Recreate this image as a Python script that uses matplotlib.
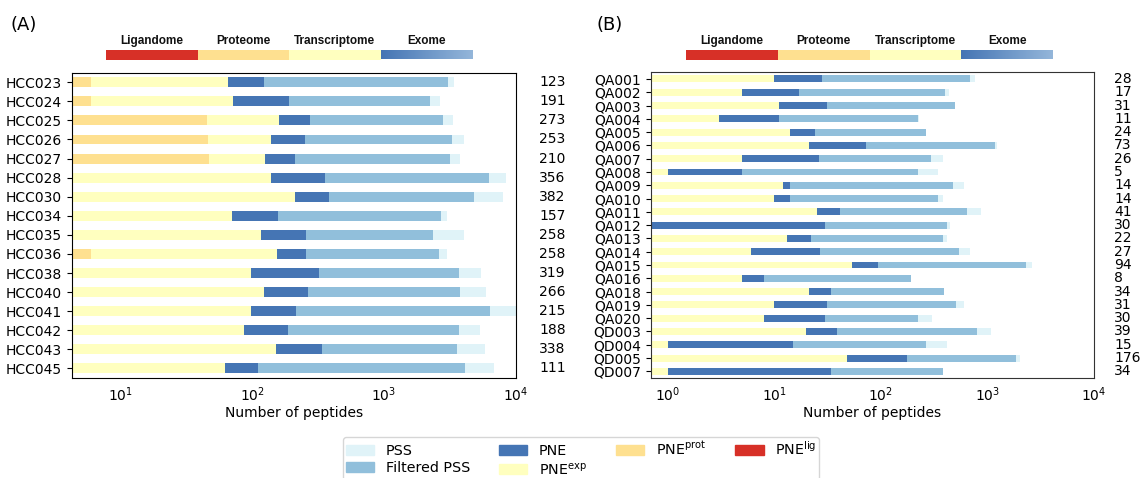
import numpy as np
import matplotlib

matplotlib.use('Agg')
import matplotlib.pyplot as plt
from matplotlib.patches import Patch
from matplotlib.colors import LinearSegmentedColormap
import matplotlib.transforms as mtransforms

# ---------------- data (cumulative end points, log x) ----------------
hcc_samples = ['HCC023', 'HCC024', 'HCC025', 'HCC026', 'HCC027', 'HCC028', 'HCC030', 'HCC034',
               'HCC035', 'HCC036', 'HCC038', 'HCC040', 'HCC041', 'HCC042', 'HCC043', 'HCC045']
hcc_pss = [3390, 2650, 3330, 4050, 3780, 8490, 8020, 3010, 4050, 2990, 5470, 5980, 12000, 5370, 5860, 6860]
hcc_filtered = [3050, 2220, 2790, 3280, 3160, 6280, 4820, 2700, 2340, 2600, 3700, 3770, 6400, 3700, 3590, 4130]
hcc_pne = [123, 191, 273, 253, 210, 356, 382, 157, 258, 258, 319, 266, 215, 188, 338, 111]
hcc_pne_exp = [66, 72, 161, 138, 124, 140, 210, 70, 116, 155, 97, 122, 97, 86, 152, 62]
hcc_pne_prot = [6, 6, 45, 46, 47, 0, 0, 0, 0, 6, 0, 0, 0, 0, 0, 0]

q_samples = ['QA001', 'QA002', 'QA003', 'QA004', 'QA005', 'QA006', 'QA007', 'QA008', 'QA009', 'QA010',
             'QA011', 'QA012', 'QA013', 'QA014', 'QA015', 'QA016', 'QA018', 'QA019', 'QA020',
             'QD003', 'QD004', 'QD005', 'QD007']
q_pss = [759, 431, 493, 228, 264, 1241, 380, 342, 598, 380, 861, 447, 415, 679, 2596, 190, 388,
         598, 299, 1069, 415, 2000, 380]
q_filtered = [679, 397, 493, 225, 264, 1169, 292, 225, 471, 342, 640, 415, 380, 535, 2287, 190, 388,
              504, 225, 794, 264, 1842, 380]
q_pne = [28, 17, 31, 11, 24, 73, 26, 5, 14, 14, 41, 30, 22, 27, 94, 8, 34, 31, 30, 39, 15, 176, 34]
q_pne_exp = [10, 5, 11, 3, 14, 21, 5, 1, 12, 10, 25, 0, 13, 6, 53, 5, 21, 10, 8, 20, 1, 48, 1]

header_labels = ['Ligandome', 'Proteome', 'Transcriptome', 'Exome']
legend_labels = ['PSS', 'Filtered PSS', 'PNE', 'PNE$^{\\rm exp}$', 'PNE$^{\\rm prot}$', 'PNE$^{\\rm lig}$']

# colours
C_PSS = '#e0f3f8'
C_FILT = '#91bfdb'
C_PNE = '#4575b4'
C_EXP = '#ffffbf'
C_PROT = '#fee090'
C_LIG = '#d73027'

W, H = 1141, 478
fig = plt.figure(figsize=(W / 100, H / 100), dpi=100)


def px_box(x0, y0, x1, y1):
    return [x0 / W, 1 - y1 / H, (x1 - x0) / W, (y1 - y0) / H]


def draw_panel(ax, names, layers, totals, xmin, num_x):
    y = np.arange(len(names))
    for vals, col in layers:
        ax.barh(y, vals, height=0.52, color=col, linewidth=0)
    ax.set_xscale('log')
    ax.set_xlim(xmin, 1e4)
    ax.set_ylim(len(names) - 0.5, -0.5)
    ax.set_yticks(y)
    ax.set_yticklabels(names, fontsize=10)
    ax.tick_params(axis='x', which='both', length=0, labelsize=10, pad=5)
    ax.minorticks_off()
    ax.set_xticks([10 ** k for k in range(0, 5) if 10 ** k >= xmin])
    ax.set_xlabel('Number of peptides', fontsize=10, labelpad=2)
    trans = mtransforms.blended_transform_factory(ax.transAxes, ax.transData)
    for i, t in enumerate(totals):
        ax.text(num_x, i, str(t), transform=trans, ha='left', va='center', fontsize=10)


def draw_header(box):
    hax = fig.add_axes(box)
    cols = [C_LIG, C_PROT, C_EXP]
    for i, c in enumerate(cols):
        hax.axvspan(i, i + 1, color=c, linewidth=0)
    cmap = LinearSegmentedColormap.from_list('exome', ['#4575b4', '#94b6da'])
    hax.imshow(np.linspace(0, 1, 256).reshape(1, -1), cmap=cmap, aspect='auto',
               extent=(3, 4, 0, 1))
    hax.set_xlim(0, 4)
    hax.set_ylim(0, 1)
    hax.axis('off')
    for i, lab in enumerate(header_labels):
        hax.text(i + 0.5, 1.95, lab, ha='center', va='center', fontsize=8.5,
                 fontweight='bold', family='Liberation Sans', color='#111111')


# panel A
axA = fig.add_axes(px_box(71.7, 72.7, 515.7, 378))
draw_panel(axA, hcc_samples,
           [(hcc_pss, C_PSS), (hcc_filtered, C_FILT), (hcc_pne, C_PNE),
            (hcc_pne_exp, C_EXP), (hcc_pne_prot, C_PROT)],
           hcc_pne, 4.26, 1.053)

# panel B
axB = fig.add_axes(px_box(650.7, 72.3, 1094, 378))
draw_panel(axB, q_samples,
           [(q_pss, C_PSS), (q_filtered, C_FILT), (q_pne, C_PNE), (q_pne_exp, C_EXP)],
           q_pne, 0.69, 1.045)
for sp in axB.spines.values():
    sp.set_color('#333333')

draw_header(px_box(106, 50, 472, 59.5))
draw_header(px_box(686, 50, 1053, 59.5))

fig.text(10 / W, 1 - 25 / H, '(A)', fontsize=13, ha='left', va='center')
fig.text(596 / W, 1 - 25 / H, '(B)', fontsize=13, ha='left', va='center')

handles = [Patch(color=c) for c in [C_PSS, C_FILT, C_PNE, C_EXP, C_PROT, C_LIG]]
fig.legend(handles, legend_labels, ncol=4, fontsize=10.3, loc='upper left',
           bbox_to_anchor=(343 / W, 1 - 437 / H), borderaxespad=0,
           borderpad=0.2, labelspacing=0.25, handleheight=0.7)

fig.savefig('out.png', dpi=100)
